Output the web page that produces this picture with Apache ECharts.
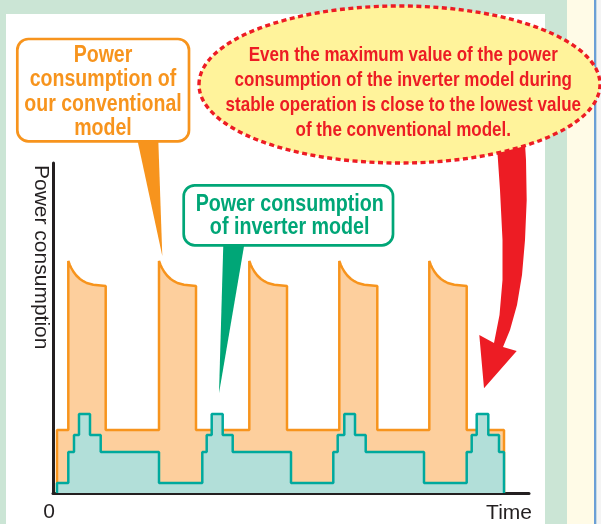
<!DOCTYPE html>
<html>
<head>
<meta charset="utf-8">
<script src="https://cdn.jsdelivr.net/npm/echarts@6/dist/echarts.min.js"></script>
<style>
  html, body { margin: 0; padding: 0; }
  #main { width: 601px; height: 524px; }
</style>
</head>
<body>
<div id="main"></div>
<script>
//////////////////// data ////////////////////
// time axis runs 0..476, power axis 0..330 (arbitrary units)
var orangeTime = [4, 4, 15.3,
  15.3, 16.8, 18.3, 20.3, 23.3, 27, 30.3, 33.7, 40.3, 52.7, 52.7, 106,
  106, 107.5, 109, 111, 114, 117.7, 121, 124.4, 131, 143, 143, 196.3,
  196.3, 197.8, 199.3, 201.3, 204.3, 208, 211.3, 214.7, 221.3, 234, 234, 286.3,
  286.3, 287.8, 289.3, 291.3, 294.3, 298, 301.3, 304.7, 311.3, 324.3, 324.3, 376.3,
  376.3, 377.8, 379.3, 381.3, 384.3, 388, 391.3, 394.7, 401.3, 413.7, 413.7, 451, 451];
var orangePower = [0, 63, 63,
  232, 228, 225, 221.5, 217.5, 214, 211.8, 210, 208.3, 207, 63, 63,
  232, 228, 225, 221.5, 217.5, 214, 211.8, 210, 208.3, 207, 63, 63,
  232, 228, 225, 221.5, 217.5, 214, 211.8, 210, 208.3, 207, 63, 63,
  232, 228, 225, 221.5, 217.5, 214, 211.8, 210, 208.3, 207, 63, 63,
  232, 228, 225, 221.5, 217.5, 214, 211.8, 210, 208.3, 207, 63, 63, 0];

var tealTime = [4, 4, 15.3, 15.3, 21, 21, 26, 26, 37, 37, 47.7, 47.7, 106, 106,
  149.3, 149.3, 153.7, 153.7, 158.7, 158.7, 169.7, 169.7, 179.7, 179.7, 238, 238,
  280.3, 280.3, 284.7, 284.7, 291.3, 291.3, 302, 302, 312.7, 312.7, 371, 371,
  413.7, 413.7, 418.7, 418.7, 423.7, 423.7, 435.3, 435.3, 446, 446, 451, 451];
var tealPower = [0, 10, 10, 41, 41, 58, 58, 79, 79, 58, 58, 41, 41, 10,
  10, 41, 41, 58, 58, 79, 79, 58, 58, 41, 41, 10,
  10, 41, 41, 58, 58, 79, 79, 58, 58, 41, 41, 10,
  10, 41, 41, 58, 58, 79, 79, 58, 58, 41, 41, 0];

var yName = 'Power consumption';
var xName = 'Time';
var orangeNote = 'Power\nconsumption of\nour conventional\nmodel';
var greenNote = 'Power consumption\nof inverter model';
var redNote = 'Even the maximum value of the power\nconsumption of the inverter model during\nstable operation is close to the lowest value\nof the conventional model.';

//////////////////// helpers ////////////////////
function toPairs(xs, ys) {
    let out = [];
    for (let i = 0; i < xs.length; i++) {
        out.push([xs[i], ys[i]]);
    }
    return out;
}

var ORANGE = '#f7941d';
var GREEN = '#00a677';
var RED = '#ed1c24';

// no condensed font installed, so squeeze bold Liberation Sans sideways
function noteText(x, y, text, color, size, lh, squeeze) {
    return {
        type: 'text', x: x, y: y, z: 20, scaleX: squeeze,
        style: {
            text: text, fill: color, align: 'center', verticalAlign: 'top',
            font: 'bold ' + size + 'px "Liberation Sans"', lineHeight: lh
        }
    };
}

//////////////////// chart ////////////////////
var chart = echarts.init(document.getElementById('main'));
var option = {
    animation: false,
    backgroundColor: '#cbe5d5',
    grid: { left: 53, right: 72, top: 163, bottom: 31 },
    xAxis: {
        type: 'value', min: 0, max: 476,
        axisLine: { show: true, lineStyle: { color: '#231f20', width: 3 } },
        axisTick: { show: false },
        splitLine: { show: false },
        axisLabel: {
            margin: 9, color: '#231f20', fontSize: 21, fontFamily: 'Liberation Sans',
            padding: [0, 8, 0, 0],
            formatter: function (v) { return v === 0 ? '0' : ''; }
        }
    },
    yAxis: {
        type: 'value', min: 0, max: 330,
        axisLine: { show: true, lineStyle: { color: '#231f20', width: 3 } },
        axisTick: { show: false },
        splitLine: { show: false },
        axisLabel: { show: false }
    },
    series: [
        {
            type: 'line', showSymbol: false, z: 2,
            data: toPairs(orangeTime, orangePower),
            lineStyle: { color: ORANGE, width: 2.5 },
            areaStyle: { color: '#fdcf9d', opacity: 1 }
        },
        {
            type: 'line', showSymbol: false, z: 3,
            data: toPairs(tealTime, tealPower),
            lineStyle: { color: '#00a99d', width: 2.5 },
            areaStyle: { color: '#b2dfd9', opacity: 1 }
        }
    ],
    graphic: [
        // page background pieces
        { type: 'rect', z: -10, shape: { x: 6, y: 14, width: 539, height: 520 }, style: { fill: '#ffffff' } },
        { type: 'rect', z: -10, shape: { x: 567, y: 0, width: 27, height: 524 }, style: { fill: '#fffbe7' } },
        { type: 'rect', z: -10, shape: { x: 594, y: 0, width: 2.5, height: 524 }, style: { fill: '#6b9fd6' } },
        { type: 'rect', z: -10, shape: { x: 596.5, y: 0, width: 5, height: 524 }, style: { fill: '#f4f4f4' } },

        // axis titles
        {
            type: 'text', x: 40.5, y: 165, rotation: -Math.PI / 2, z: 5,
            style: { text: yName, fill: '#231f20', font: '21px "Liberation Sans"', align: 'left', verticalAlign: 'middle' }
        },
        {
            type: 'text', x: 532, y: 513.5, z: 5,
            style: { text: xName, fill: '#231f20', font: '21px "Liberation Sans"', align: 'right', verticalAlign: 'middle' }
        },

        // orange callout
        { type: 'rect', z: 18, shape: { x: 17.3, y: 39, width: 171.7, height: 102.3, r: 11 }, style: { fill: '#ffffff', stroke: ORANGE, lineWidth: 2.7 } },
        { type: 'polygon', z: 19, shape: { points: [[137.5, 140.5], [158.3, 140.5], [162.3, 256]] }, style: { fill: ORANGE } },
        noteText(103, 43.5, orangeNote, ORANGE, 23, 24.3, 0.85),

        // green callout
        { type: 'rect', z: 18, shape: { x: 183.7, y: 185.3, width: 209.3, height: 60, r: 11 }, style: { fill: '#ffffff', stroke: GREEN, lineWidth: 2.7 } },
        { type: 'polygon', z: 19, shape: { points: [[223.3, 244.5], [244.3, 244.5], [219, 393.3]] }, style: { fill: GREEN } },
        noteText(289.7, 192.5, greenNote, GREEN, 24, 23.3, 0.82),

        // red arrow then the dotted ellipse
        {
            type: 'polygon', z: 16,
            shape: {
                points: [[497, 146], [500, 190], [502.5, 240], [502.5, 280], [499.5, 315], [494, 343],
                    [479.3, 335], [484, 388.3], [516.7, 351], [503, 347],
                    [510, 330], [517, 305], [522, 275], [525, 240], [526.7, 200], [526, 160], [525, 144]]
            },
            style: { fill: RED }
        },
        {
            type: 'ellipse', z: 17,
            shape: { cx: 399.5, cy: 84.5, rx: 200.5, ry: 78.5 },
            style: { fill: '#fff39b', stroke: RED, lineWidth: 3.4, lineDash: [5, 3.5] }
        },
        noteText(403.3, 42.5, redNote, RED, 21, 25, 0.81)
    ]
};
chart.setOption(option);
</script>
</body>
</html>
